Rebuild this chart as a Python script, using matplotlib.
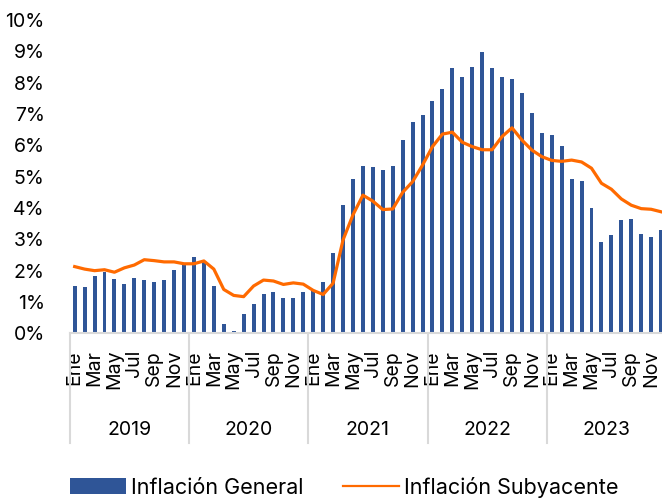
import numpy as np
import matplotlib
matplotlib.use("Agg")
import matplotlib.pyplot as plt
from matplotlib.patches import Patch
from matplotlib.lines import Line2D

plt.rcParams['font.family'] = ['Inter', 'DejaVu Sans']

# data (percent), monthly Jan 2019 - Dec 2023
years = ["2019", "2020", "2021", "2022", "2023"]
month_names = ["Ene", "Feb", "Mar", "Abr", "May", "Jun", "Jul", "Ago", "Sep", "Oct", "Nov", "Dic"]

general = [1.51, 1.48, 1.82, 1.95, 1.74, 1.59, 1.76, 1.70, 1.65, 1.71, 2.01, 2.18,
           2.44, 2.27, 1.51, 0.29, 0.07, 0.61, 0.94, 1.25, 1.32, 1.14, 1.13, 1.31,
           1.38, 1.63, 2.56, 4.09, 4.93, 5.33, 5.30, 5.20, 5.33, 6.16, 6.74, 6.96,
           7.42, 7.80, 8.48, 8.19, 8.51, 8.99, 8.46, 8.19, 8.13, 7.68, 7.04, 6.38,
           6.34, 5.98, 4.92, 4.87, 3.99, 2.91, 3.13, 3.61, 3.64, 3.18, 3.08, 3.30]

subyacente = [2.13, 2.05, 2.00, 2.03, 1.95, 2.09, 2.18, 2.35, 2.32, 2.28, 2.28, 2.22,
              2.22, 2.31, 2.05, 1.40, 1.21, 1.17, 1.51, 1.70, 1.67, 1.56, 1.61, 1.57,
              1.37, 1.24, 1.60, 2.98, 3.78, 4.41, 4.22, 3.95, 3.97, 4.50, 4.84, 5.37,
              5.96, 6.36, 6.42, 6.10, 5.96, 5.86, 5.86, 6.28, 6.56, 6.17, 5.85, 5.64,
              5.52, 5.49, 5.53, 5.47, 5.27, 4.79, 4.60, 4.29, 4.09, 3.98, 3.96, 3.88]

blue = "#2F5597"
orange = "#FF6A00"
grey = "#D9D9D9"

fig = plt.figure(figsize=(6.62, 4.98), dpi=100)
ax = fig.add_axes([0.1053, 0.3307, 0.9008, 0.629])

x = np.arange(len(general))
ax.bar(x, general, width=0.4, color=blue, zorder=2)
ax.plot(x, subyacente, color=orange, lw=2.3, zorder=3)

ax.set_xlim(-0.5, len(general) - 0.5)
ax.set_ylim(0, 10)
ax.set_yticks(range(0, 11))
ax.set_yticklabels([f"{v}%" for v in range(0, 11)], fontsize=14)
ax.tick_params(axis='y', length=0, pad=18)

# months: show every other month
ticks = x[::2]
ax.set_xticks(ticks)
ax.set_xticklabels([month_names[i % 12] for i in ticks], rotation=90, fontsize=14,
                   va='top', ha='center')
ax.tick_params(axis='x', length=0, pad=12)

for s in ['top', 'right', 'left']:
    ax.spines[s].set_visible(False)
ax.spines['bottom'].set_color(grey)
ax.spines['bottom'].set_linewidth(1.5)

# year groups
trans = ax.get_xaxis_transform()
for i, yr in enumerate(years):
    ax.add_line(Line2D([i * 12 - 0.5, i * 12 - 0.5], [0, -0.35], transform=trans,
                       color=grey, lw=1.5, clip_on=False))
    ax.text(i * 12 + 5.5, -0.31, yr, transform=trans, ha='center', va='center',
            fontsize=14)

handles = [Patch(facecolor=blue, edgecolor='none'),
           Line2D([0], [0], color=orange, lw=1.6)]
fig.legend(handles, ["Inflación General", "Inflación Subyacente"],
           loc='center', bbox_to_anchor=(0.52, 0.022), ncol=2, frameon=False,
           fontsize=15.5, handlelength=2.6, handleheight=0.75, columnspacing=1.8,
           handletextpad=0.25, borderpad=0)

fig.savefig("out.png", dpi=100)
